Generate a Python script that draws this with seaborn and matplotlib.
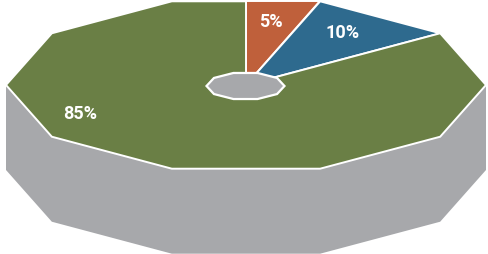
import numpy as np
import matplotlib
matplotlib.use("Agg")
import matplotlib.pyplot as plt
import seaborn as sns

# ---- data ----
labels = ["5%", "10%", "85%"]
values = [5, 10, 85]
colors = ["#bf603b", "#2e6a8e", "#6a7f45"]
side_color = "#a7a8ab"
hole_color = "#a7a8ab"

# ---- geometry / style (not data) ----
W, H = 488, 254
CX, CY, RX, RY, DEPTH = 246, 85, 240, 88, 85
HCX, HCY, HRX, HRY = 245.5, 86, 39, 13.7
NSIDES = 10
START = 90.0  # degrees, clockwise
label_pos = [(271, 26.7), (342.5, 37.7), (80.3, 119.3)]  # text baselines

sns.set_theme(style="white")
plt.rcParams["font.family"] = ["Roboto", "DejaVu Sans"]

k = 360.0 / NSIDES


def unit_r(theta):
    phi = np.deg2rad((theta % k) - k / 2)
    return np.cos(np.deg2rad(k / 2)) / np.cos(phi)


def pt(theta, cx=CX, cy=CY, rx=RX, ry=RY, dy=0.0):
    r = unit_r(theta)
    t = np.deg2rad(theta)
    return (cx + rx * r * np.cos(t), cy - ry * r * np.sin(t) + dy)


fig = plt.figure(figsize=(W / 100, H / 100), dpi=100)
ax = fig.add_axes([0, 0, 1, 1])
ax.set_xlim(0, W)
ax.set_ylim(H, 0)
ax.axis("off")

# side (front half)
front = [180 + k * i for i in range(NSIDES // 2 + 1)]
top_pts = [pt(a) for a in front]
bot_pts = [pt(a, dy=DEPTH) for a in front[::-1]]
side = top_pts + bot_pts
ax.fill([p[0] for p in side], [p[1] for p in side], color=side_color, lw=0, zorder=1)

# top face slices
total = float(sum(values))
a1 = START
for v, c in zip(values, colors):
    a2 = a1 - 360.0 * v / total
    poly = [(CX, CY), pt(a1)]
    vstart = np.floor((a1 - 1e-9) / k) * k
    a = vstart
    while a > a2 + 1e-9:
        poly.append(pt(a))
        a -= k
    poly.append(pt(a2))
    ax.fill([p[0] for p in poly], [p[1] for p in poly], facecolor=c,
            edgecolor="white", lw=1.4, joinstyle="miter", zorder=2)
    a1 = a2

# hole
hole = [pt(k * i, HCX, HCY, HRX, HRY) for i in range(NSIDES)]
ax.fill([p[0] for p in hole], [p[1] for p in hole], facecolor=hole_color,
        edgecolor="white", lw=1.6, zorder=3)

for (x, y), lab in zip(label_pos, labels):
    ax.text(x, y, lab, ha="center", va="baseline", color="white",
            fontsize=13, fontweight="semibold", zorder=4)

fig.savefig("out.png", dpi=100)
